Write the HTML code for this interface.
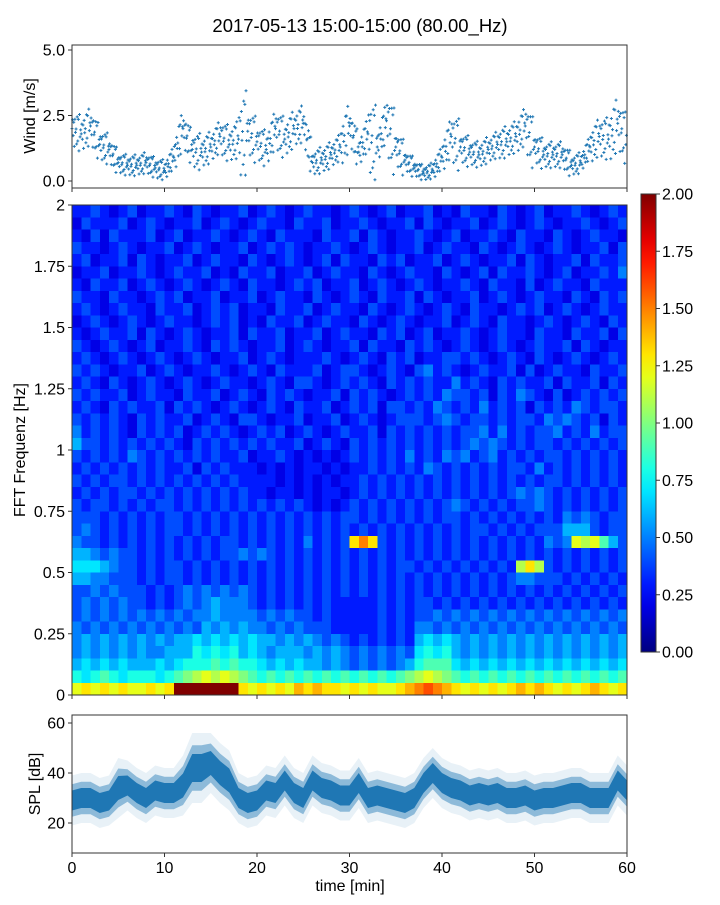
<!DOCTYPE html>
<html><head><meta charset="utf-8"><style>
html,body{margin:0;padding:0;background:#fff;}
svg text{font-family:"Liberation Sans",sans-serif;fill:#000;}
</style></head><body>
<svg id="fig" width="720" height="900" xmlns="http://www.w3.org/2000/svg">
<text x="360" y="32" font-size="18.5" text-anchor="middle">2017-05-13 15:00-15:00 (80.00_Hz)</text>
<g id="wind"></g>
<g id="spec"></g>
<g id="cbar"></g>
<g id="spl"></g>
</svg>
<script>
const windMinutes = [0,1,2,3,4,5,6,7,8,9,10,11,12,13,14,15,16,17,18,19,20,21,22,23,24,25,26,27,28,29,30,31,32,33,34,35,36,37,38,39,40,41,42,43,44,45,46,47,48,49,50,51,52,53,54,55,56,57,58,59,60];
const windMid = [2.0,1.8,2.1,1.4,1.2,0.7,0.6,0.6,0.7,0.5,0.4,0.9,2.0,1.2,1.1,1.3,1.7,1.4,1.6,1.9,1.5,1.2,2.0,1.6,2.0,2.2,0.7,0.8,1.0,1.3,2.1,1.1,1.8,1.3,2.3,1.3,0.8,0.5,0.3,0.4,0.9,1.7,1.3,1.1,1.0,1.2,1.4,1.5,1.7,2.1,1.3,1.0,1.0,1.0,0.6,0.7,1.3,1.7,1.6,2.2,1.5];
const windSpread = [0.7,0.7,0.7,0.6,0.5,0.4,0.4,0.4,0.4,0.4,0.4,0.7,0.7,0.7,0.6,0.6,0.7,0.7,1.6,0.9,0.7,0.7,0.8,0.7,0.7,0.7,0.5,0.5,0.5,0.9,0.7,0.6,1.5,0.7,1.3,0.7,0.4,0.3,0.3,0.4,0.7,1.0,0.6,0.5,0.5,0.5,0.6,0.6,0.7,1.0,0.6,0.5,0.5,0.5,0.4,0.4,0.7,0.8,1.0,1.0,0.7];
const windTicks = [0,2.5,5];
const windTickLabels = ["0.0","2.5","5.0"];

const specFreqTicks = [0,0.25,0.5,0.75,1,1.25,1.5,1.75,2];
const specFreqLabels = ["0","0.25","0.5","0.75","1","1.25","1.5","1.75","2"];
const specLevelChars = "0123456789ABCDEFGHIJK"; // index*0.1
const specRows = [
"334323423343243233423432343323432342334232433243234233432343",
"243334234323342343234332433423343233424323342343234323343234",
"324243334234233432343243332433424323343234233432433243234332",
"433234323342343233423434323343234323342343324323432343233424",
"342334243233423433243234323424332434233423432334243233424334",
"233423343234334232433423342343324323433243234243343234233435",
"324334234323432343243323434233423432343233432433242343324333",
"433243323434233423342343324323432433424323342343234332432434",
"343234332433423434233243342343324323432343243323434234323433",
"234323432343323434232433423433243234323342343243323432343243",
"323433424323432334243342334234332434234233432343324332433424",
"432343234233432434323342343233424332434323432343234334243233",
"343234323432343233423432333432343243423344343234324323432343",
"434323342343233432343243334234432343245343234334242343324334",
"343243234323432343323432443234343243434335343243433424334243",
"434334234332433423432434323342434323434354434243543242343434",
"343243433424343234323432433423434244343543435343424343543443",
"434343243433423432443233423342343234443454344343443545434243",
"534343243434234343234342343234334243434343445353434453435344",
"644343434343243434343433423432434343434343454543434434343434",
"434343543434343433423343232323434343534354534534343443434343",
"343434343433424343332323233232334343435434343434435343434343",
"434344343434343434333323232323343434343434343434343443434343",
"343434434343434343433233232332343434343434343434545434343434",
"434434343443434343434343432323434343434345434343445434343434",
"444343434344343434343434343434434343434344343434343435454344",
"454343434344343434343434343434343434343434344343434446664344",
"544343434343434344343434353434DFD434343434343434343545CBC964",
"665454434343434344545434343434343434343434343434343434343434",
"777654434344343434343434343434343434434343434343BDB434343434",
"665544434344343434343434343434343434343434343434554443434343",
"445454443434545454543434343434343434343434343434343434343434",
"454545443434545655543434343433333434344343434343434343434343",
"454545454545455655554545443433333434344545454545454545454545",
"545454545454546565655454544433333434355454545454545454545454",
"565656565656676767676656565454343434367676565656565656565656",
"565656565566687878676566656565454545478786565656565656565656",
"676767666767888989887676766565454545689997676767676767676767",
"878987888789ABCBCBA98989898989898989ABCBA9898989898989898989",
"CDCDCDCCDCDKKKKKKKDCDCDCEDEDDCDCDCCDEFGFEDCDCDCDEDEDCDCDEDCD"
];
const cbarTicks = [0,0.25,0.5,0.75,1,1.25,1.5,1.75,2];
const cbarLabels = ["0.00","0.25","0.50","0.75","1.00","1.25","1.50","1.75","2.00"];

const splMinutes = windMinutes;
const splMean = [29,30,30,28,29,34,35,32,30,33,32,32,35,42,42,44,40,37,30,28,29,33,32,37,32,30,37,34,33,31,31,36,30,31,30,29,28,30,36,40,36,34,33,31,32,31,32,30,30,31,29,30,30,31,32,32,30,30,30,37,33];
const splSpread = [5,5,5,5,5,6,5,5,5,5,5,5,6,7,7,6,6,6,5,5,5,5,5,5,5,5,5,5,5,5,5,5,5,5,5,5,5,5,5,5,5,5,5,5,5,5,5,5,5,5,5,5,5,5,5,5,5,5,5,5,5];
const splTicks = [20,40,60];
const splTickLabels = ["20","40","60"];
const timeTicks = [0,10,20,30,40,50,60];
const timeTickLabels = ["0","10","20","30","40","50","60"];

const NS="http://www.w3.org/2000/svg";
function mk(tag,attrs,parent){const e=document.createElementNS(NS,tag);for(const k in attrs)e.setAttribute(k,attrs[k]);parent.appendChild(e);return e;}
const X0=72,X1=627;
const xT=m=>X0+(X1-X0)*m/60;
function jet(v){const t=Math.max(0,Math.min(1,v/2));const c=x=>Math.round(255*Math.max(0,Math.min(1,1.5-Math.abs(4*t-x))));return `rgb(${c(3)},${c(2)},${c(1)})`;}

function frame(g,y0,y1,name){const r=mk('rect',{x:X0,y:y0,width:X1-X0,height:y1-y0,fill:'none',stroke:'#333','stroke-width':1},g);}
function yTicks(g,vals,labels,yf,name){vals.forEach((v,i)=>{const y=yf(v);const l=mk('line',{x1:X0-4,x2:X0,y1:y,y2:y,stroke:'#333'},g);const t=mk('text',{x:X0-7,y:y+5.5,'font-size':16,'text-anchor':'end'},g);t.textContent=labels[i];});}
function xTickMarks(g,y){timeTicks.forEach(m=>{const l=mk('line',{x1:xT(m),x2:xT(m),y1:y,y2:y+4,stroke:'#333'},g);});}
function ylabel(g,x,y,txt,name){const t=mk('text',{x:x,y:y,'font-size':16,'text-anchor':'middle',transform:`rotate(-90 ${x} ${y})`},g);t.textContent=txt;}

// Wind
(function(){const g=document.getElementById('wind');const W0=45,W1=188;const yW=v=>181-v*26.2;
 const pts=mk('g',{},g);
 const offs=[0,0.6,-0.5,0.2,-0.9,0.8,-0.2,0.4,-0.7,1,-0.35,0.1,-1,0.5,-0.1,0.7];
 windMinutes.forEach((m,i)=>{if(m>=60)return;const mid=windMid[i],sp=windSpread[i];const next=windMid[Math.min(i+1,windMid.length-1)];
  for(let k=0;k<16;k++){const f=((k*5)%16)/16;const base=mid+(next-mid)*f;const off=offs[k]*sp;let v=Math.max(0.05,base+off);const x=xT(m+f);const y=yW(v);
   mk('path',{d:`M${x-1.5},${y}h3M${x},${y-1.5}v3`,stroke:'#1f77b4','stroke-width':1},pts);}
 });
 frame(g,W0,W1,'wind-plot-frame');yTicks(g,windTicks,windTickLabels,yW,'wind-y');xTickMarks(g,W1);ylabel(g,35,116,'Wind [m/s]','wind-y-axis-title');})();

// Spectrogram
(function(){const g=document.getElementById('spec');const S0=205,S1=695;const yF=f=>S1-(S1-S0)*f/2;const nR=specRows.length;const rh=(S1-S0)/nR;
 const cells=mk('g',{'shape-rendering':'crispEdges'},g);
 specRows.forEach((row,r)=>{const f0=2-(r+1)*2/nR;for(let c=0;c<60;c++){const ch=row[c]||'3';const v=specLevelChars.indexOf(ch)*0.1;
  const x=xT(c),w=xT(c+1)-x;const y=yF(f0+2/nR);mk('rect',{x:x,y:y,width:w+0.5,height:rh+0.5,fill:jet(v)},cells);}});
 frame(g,S0,S1,'spectrogram-frame');yTicks(g,specFreqTicks,specFreqLabels,yF,'freq-y');xTickMarks(g,S1);ylabel(g,25,450,'FFT Frequenz [Hz]','freq-y-axis-title');})();

// Colorbar
(function(){const g=document.getElementById('cbar');const C0=194,C1=652,cx=641,cw=15;const yC=v=>C1-(C1-C0)*v/2;
 const defs=mk('defs',{},g);const lg=mk('linearGradient',{id:'jetg',x1:0,y1:1,x2:0,y2:0},defs);
 for(let i=0;i<=20;i++){mk('stop',{offset:i/20,'stop-color':jet(i/10)},lg);}
 const r=mk('rect',{x:cx,y:C0,width:cw,height:C1-C0,fill:'url(#jetg)',stroke:'#333','stroke-width':1},g);
 cbarTicks.forEach((v,i)=>{const y=yC(v);mk('line',{x1:cx+cw,x2:cx+cw+4,y1:y,y2:y,stroke:'#333'},g);const t=mk('text',{x:cx+cw+6,y:y+5.5,'font-size':16},g);t.textContent=cbarLabels[i];});})();

// SPL
(function(){const g=document.getElementById('spl');const P0=715,P1=853;const yS=v=>823-(v-20)*2.5;
 function band(k,op,name){let up='',dn='';splMinutes.forEach((m,i)=>{up+=(i?'L':'M')+xT(m)+','+yS(splMean[i]+splSpread[i]*k);});for(let i=splMinutes.length-1;i>=0;i--){dn+='L'+xT(splMinutes[i])+','+yS(splMean[i]-splSpread[i]*k);}
  const p=mk('path',{d:up+dn+'Z',fill:'#1f77b4','fill-opacity':op},g);}
 band(2,0.1,'spl-outer-band');band(1.3,0.45,'spl-mid-band');band(0.8,1,'spl-core-band');
 frame(g,P0,P1,'spl-plot-frame');yTicks(g,splTicks,splTickLabels,yS,'spl-y');xTickMarks(g,P1);
 timeTicks.forEach((m,i)=>{const t=mk('text',{x:xT(m),y:873,'font-size':16,'text-anchor':'middle'},g);t.textContent=timeTickLabels[i];});
 ylabel(g,40,784,'SPL [dB]','spl-y-axis-title');
 const xl=mk('text',{x:350,y:891,'font-size':16,'text-anchor':'middle'},g);xl.textContent='time [min]';})();
</script>
</body></html>
